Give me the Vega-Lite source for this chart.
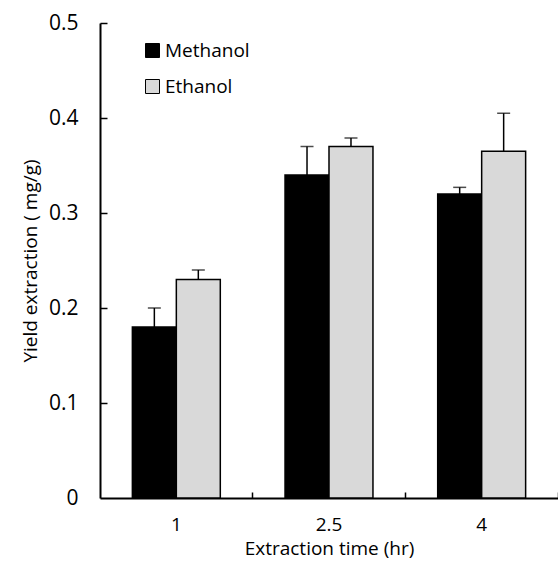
{
  "$schema": "https://vega.github.io/schema/vega-lite/v6.json",
  "width": 458,
  "height": 475,
  "autosize": {"type": "none"},
  "padding": {"left": 100, "top": 23, "right": 0, "bottom": 64},
  "config": {
    "font": "Open Sans",
    "view": {"stroke": null},
    "axis": {
      "grid": false,
      "domainColor": "black",
      "domainWidth": 2,
      "tickColor": "black",
      "tickWidth": 1.5,
      "labelColor": "black",
      "titleColor": "black",
      "labelFont": "Open Sans",
      "titleFont": "Open Sans",
      "titleFontWeight": "normal"
    }
  },
  "data": {
    "values": [
      {"time": "1", "solvent": "Methanol", "yield": 0.18, "upper": 0.20},
      {"time": "1", "solvent": "Ethanol", "yield": 0.23, "upper": 0.24},
      {"time": "2.5", "solvent": "Methanol", "yield": 0.34, "upper": 0.37},
      {"time": "2.5", "solvent": "Ethanol", "yield": 0.37, "upper": 0.379},
      {"time": "4", "solvent": "Methanol", "yield": 0.32, "upper": 0.327},
      {"time": "4", "solvent": "Ethanol", "yield": 0.365, "upper": 0.405}
    ]
  },
  "resolve": {"axis": {"x": "independent", "y": "independent"}},
  "layer": [
    {
      "mark": {"type": "bar", "stroke": "black", "strokeWidth": 1.5},
      "encoding": {
        "x": {
          "field": "time",
          "type": "nominal",
          "sort": ["1", "2.5", "4"],
          "scale": {"paddingInner": 0.424, "paddingOuter": 0.212},
          "axis": {
            "title": "Extraction time (hr)",
            "labelAngle": 0,
            "ticks": false,
            "labelPadding": 17,
            "labelFontSize": 19,
            "titleFontSize": 19,
            "titlePadding": 5
          }
        },
        "xOffset": {
          "field": "solvent",
          "type": "nominal",
          "sort": ["Methanol", "Ethanol"],
          "scale": {"paddingInner": 0}
        },
        "y": {
          "field": "yield",
          "type": "quantitative",
          "scale": {"domain": [0, 0.5], "nice": false},
          "axis": {
            "title": "Yield extraction ( mg/g)",
            "values": [0, 0.1, 0.2, 0.3, 0.4, 0.5],
            "labelExpr": "datum.value == 0 ? '0' : format(datum.value, '.1f')",
            "ticks": false,
            "labelPadding": 22,
            "labelFontSize": 21,
            "titleFontSize": 19,
            "titlePadding": 8
          }
        },
        "color": {
          "field": "solvent",
          "type": "nominal",
          "sort": ["Methanol", "Ethanol"],
          "scale": {"domain": ["Methanol", "Ethanol"], "range": ["#000000", "#d9d9d9"]},
          "legend": {
            "title": null,
            "orient": "none",
            "legendX": 43,
            "legendY": 18,
            "symbolType": "square",
            "symbolSize": 196,
            "symbolStrokeColor": "black",
            "symbolStrokeWidth": 1,
            "symbolOpacity": 1,
            "labelFontSize": 19,
            "labelColor": "black",
            "labelOffset": 3,
            "rowPadding": 16,
            "padding": 0
          }
        }
      }
    },
    {
      "mark": {"type": "rule", "color": "black", "strokeWidth": 1.5},
      "encoding": {
        "x": {
          "field": "time",
          "type": "nominal",
          "sort": ["1", "2.5", "4"],
          "axis": {
            "orient": "top",
            "offset": -475,
            "title": null,
            "labels": false,
            "domain": false,
            "tickOffset": 76,
            "tickSize": 6
          }
        },
        "xOffset": {
          "field": "solvent",
          "type": "nominal",
          "sort": ["Methanol", "Ethanol"]
        },
        "y": {
          "field": "yield",
          "type": "quantitative",
          "axis": {
            "orient": "right",
            "offset": -458,
            "title": null,
            "labels": false,
            "domain": false,
            "values": [0.1, 0.2, 0.3, 0.4, 0.5],
            "tickSize": 7
          }
        },
        "y2": {"field": "upper"}
      }
    },
    {
      "mark": {"type": "tick", "color": "black", "size": 13, "thickness": 1.5, "orient": "horizontal"},
      "encoding": {
        "x": {"field": "time", "type": "nominal", "sort": ["1", "2.5", "4"], "axis": null},
        "xOffset": {"field": "solvent", "type": "nominal", "sort": ["Methanol", "Ethanol"]},
        "y": {"field": "upper", "type": "quantitative", "axis": null}
      }
    }
  ]
}
